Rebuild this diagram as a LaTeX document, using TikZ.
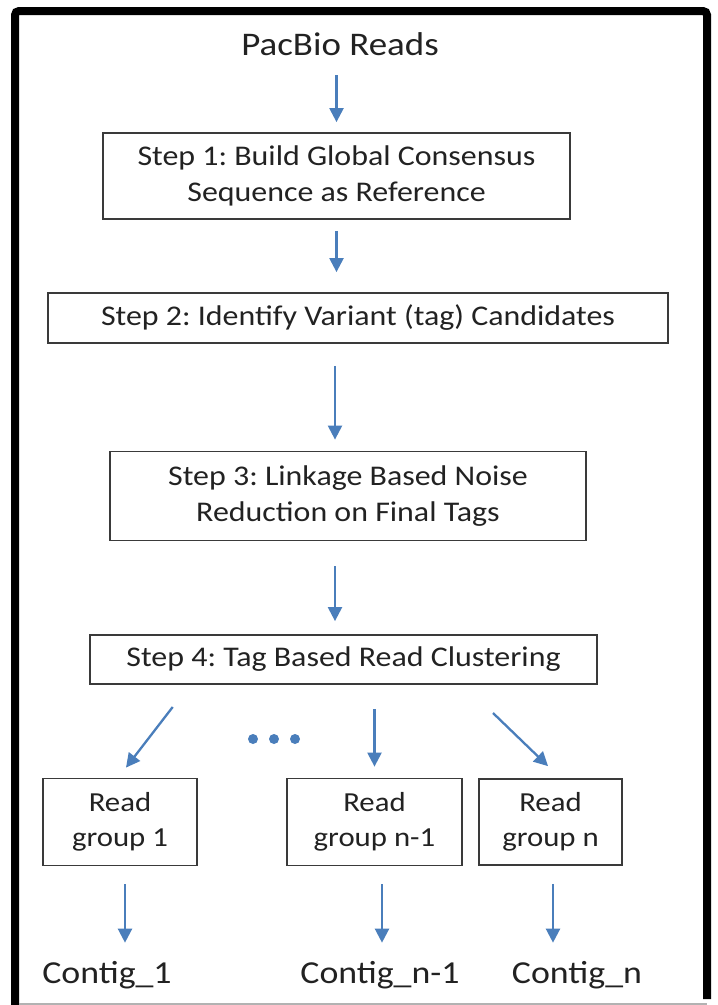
\documentclass[tikz,border=0pt]{standalone}
\usepackage{fontspec}
\setmainfont{Carlito}[FakeStretch=1.12]
\usetikzlibrary{arrows.meta}
\definecolor{arrblue}{HTML}{4A7EBB}
\definecolor{txt}{HTML}{222222}
\definecolor{boxline}{HTML}{3A3A3A}
\frenchspacing
\tikzset{
  stepbox/.style={draw=boxline, line width=1.8pt, text=txt, align=center, inner sep=0pt,
    font=\fontsize{28.5}{36}\selectfont},
  groupbox/.style={draw=boxline, line width=1.8pt, text=txt, align=center, inner sep=0pt,
    font=\fontsize{27.5}{35}\selectfont},
  plainlabel/.style={text=txt, inner sep=0pt, anchor=base},
  arr/.style={draw=arrblue, line width=2.3pt, -{Triangle[length=14pt,width=14pt]}},
  bluedot/.style={circle, fill=arrblue, inner sep=0pt, minimum size=10pt},
}
\begin{document}
\begin{tikzpicture}[x=1pt,y=-1pt]
\useasboundingbox (0,0) rectangle (718,1005);
% frame
\draw[line width=8pt, rounded corners=4pt] (15,1005) -- (15,11) -- (707,11) -- (707,999);
\draw[gray!60, line width=1.5pt] (19,1004) -- (707,1004);

% nodes
\node[plainlabel, font=\fontsize{33}{40}\selectfont] (pac) at (340,55) {PacBio Reads};
\node[stepbox, minimum width=467pt, minimum height=86pt] (b1) at (336.5,176)
  {Step 1: Build Global Consensus\\Sequence as Reference};
\node[stepbox, minimum width=620pt, minimum height=50pt] (b2) at (358,318)
  {Step 2: Identify Variant (tag) Candidates};
\node[stepbox, minimum width=476pt, minimum height=89pt] (b3) at (348,496)
  {Step 3: Linkage Based Noise\\Reduction on Final Tags};
\node[stepbox, minimum width=507pt, minimum height=49pt] (b4) at (343.5,659.5)
  {Step 4: Tag Based Read Clustering};

\node[groupbox, minimum width=154pt, minimum height=87pt] (g1) at (120,822) {Read\\group 1};
\node[groupbox, minimum width=175pt, minimum height=87pt] (g2) at (374.5,822) {Read\\group n-1};
\node[groupbox, minimum width=143pt, minimum height=86pt] (g3) at (550.5,822) {Read\\group n};

\node[plainlabel, font=\fontsize{32}{38}\selectfont] (c1) at (107,983) {Contig\_1};
\node[plainlabel, font=\fontsize{32}{38}\selectfont] (c2) at (380,983) {Contig\_n-1};
\node[plainlabel, font=\fontsize{32}{38}\selectfont] (c3) at (577,983) {Contig\_n};

\node[bluedot] (dot1) at (253,739) {};
\node[bluedot] (dot2) at (274,739) {};
\node[bluedot] (dot3) at (295,739) {};

% main arrows
\draw[arr, shorten <=20pt, shorten >=10pt] (b1.north |- pac.base) -- (b1.north);
\draw[arr, shorten <=11pt, shorten >=20pt] (b1.south) -- (b1.south |- b2.north);
\coordinate (a3e) at ([xshift=-13pt]b3.north);
\draw[arr, shorten <=22pt, shorten >=11pt] (a3e |- b2.south) -- (a3e);
\coordinate (a4e) at ([xshift=-8.5pt]b4.north);
\draw[arr, shorten <=25pt, shorten >=13pt] (a4e |- b3.south) -- (a4e);

% fan out
\coordinate (f1s) at (172.7,707);
\coordinate (f2s) at (374.5,709);
\coordinate (f3s) at (493,713);
\draw[arr] (f1s) -- ([xshift=6pt,yshift=10pt]g1.north);
\draw[arr] (f2s) -- ([yshift=11pt]g2.north);
\draw[arr] (f3s) -- ([xshift=-2.5pt,yshift=12pt]g3.north);

% down to contigs
\coordinate (g1x) at ([xshift=5pt]g1.south);
\coordinate (g2x) at ([xshift=7.5pt]g2.south);
\coordinate (g3x) at ([xshift=2.5pt]g3.south);
\draw[arr, shorten <=18pt, shorten >=18pt] (g1x) -- (g1x |- c1.north);
\draw[arr, shorten <=18pt, shorten >=18pt] (g2x) -- (g2x |- c2.north);
\draw[arr, shorten <=18pt, shorten >=18pt] (g3x) -- (g3x |- c3.north);
\end{tikzpicture}
\end{document}
